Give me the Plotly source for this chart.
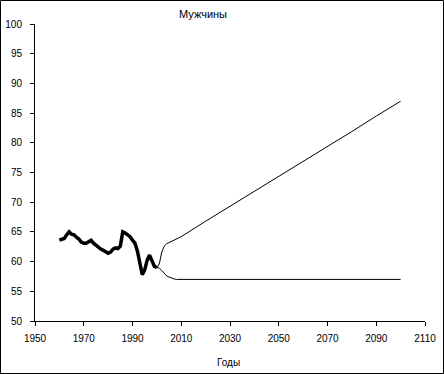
import plotly.graph_objects as go

# Historical male life expectancy (thick line)
hist_years = [1960, 1961, 1962, 1963, 1964, 1965, 1966, 1967, 1968, 1969,
              1970, 1971, 1972, 1973, 1974, 1975, 1976, 1977, 1978, 1979,
              1980, 1981, 1982, 1983, 1984, 1985, 1986, 1987, 1988, 1989,
              1990, 1991, 1992, 1993, 1994, 1995, 1996, 1997, 1998, 1999, 2000]
hist_values = [63.6, 63.8, 63.9, 64.5, 65.0, 64.6, 64.5, 64.1, 63.8, 63.3,
               63.1, 63.1, 63.3, 63.6, 63.1, 62.7, 62.3, 62.1, 61.9, 61.6,
               61.4, 61.6, 62.1, 62.3, 62.2, 62.6, 65.0, 64.8, 64.5, 64.2,
               63.6, 63.1, 61.8, 59.6, 57.8, 58.6, 60.2, 61.1, 60.3, 59.2, 59.0]

# Optimistic scenario (thin rising line)
opt_years = [2000, 2001, 2002, 2003, 2004, 2005, 2006, 2010, 2020, 2030,
             2040, 2050, 2060, 2070, 2080, 2090, 2100]
opt_values = [59.0, 59.6, 61.6, 62.6, 63.0, 63.2, 63.4, 64.2, 66.8, 69.3,
              71.8, 74.4, 76.9, 79.4, 81.9, 84.5, 87.0]

# Pessimistic scenario (thin flat line)
pes_years = [2000, 2001, 2002, 2003, 2004, 2005, 2006, 2007, 2008, 2100]
pes_values = [59.0, 58.9, 58.5, 58.0, 57.6, 57.4, 57.2, 57.1, 57.0, 57.0]

x_ticks = [1950, 1970, 1990, 2010, 2030, 2050, 2070, 2090, 2110]
y_ticks = [50, 55, 60, 65, 70, 75, 80, 85, 90, 95, 100]

title_text = "Мужчины"
x_title = "Годы"

fig = go.Figure()
fig.add_trace(go.Scatter(x=pes_years, y=pes_values, mode="lines",
                         line=dict(color="black", width=1), showlegend=False))
fig.add_trace(go.Scatter(x=opt_years, y=opt_values, mode="lines",
                         line=dict(color="black", width=1), showlegend=False))
fig.add_trace(go.Scatter(x=hist_years, y=hist_values, mode="lines",
                         line=dict(color="black", width=3.5), showlegend=False))

W, H = 444, 374
L, R, T, B = 35, 19, 24, 53
pw, ph = W - L - R, H - T - B

fig.update_layout(
    width=W, height=H,
    margin=dict(l=L, r=R, t=T, b=B, autoexpand=False),
    paper_bgcolor="white", plot_bgcolor="white",
    font=dict(family="Liberation Sans, Arial, sans-serif", size=10, color="black"),
    xaxis=dict(range=[1950, 2110], tickvals=x_ticks, ticktext=[str(v) for v in x_ticks],
               showgrid=False, zeroline=False, showline=True, linecolor="black", linewidth=1,
               ticks="outside", ticklen=4, tickcolor="black", tickwidth=1,
               ticklabelstandoff=4, fixedrange=True, automargin=False),
    yaxis=dict(range=[50, 100], tickvals=y_ticks, ticktext=[str(v) for v in y_ticks],
               showgrid=False, zeroline=False, showline=True, linecolor="black", linewidth=1,
               ticks="outside", ticklen=4, tickcolor="black", tickwidth=1,
               ticklabelstandoff=6, fixedrange=True, automargin=False),
    annotations=[
        dict(text=title_text, x=(203 - L) / pw, y=(H - B - 14) / ph, xref="paper", yref="paper",
             showarrow=False, xanchor="center", yanchor="middle", font=dict(size=11)),
        dict(text=x_title, x=(228 - L) / pw, y=(H - B - 362) / ph, xref="paper", yref="paper",
             showarrow=False, xanchor="center", yanchor="middle", font=dict(size=10)),
    ],
    shapes=[dict(type="rect", xref="paper", yref="paper",
                 x0=(0.5 - L) / pw, x1=(W - 0.5 - L) / pw,
                 y0=(H - B - (H - 0.5)) / ph, y1=(H - B - 0.5) / ph,
                 line=dict(color="black", width=1), fillcolor="rgba(0,0,0,0)", layer="above")],
)

fig.write_html("out.html", config={"displayModeBar": False},
               post_script="document.body.style.margin='0';document.body.style.overflow='hidden';")
